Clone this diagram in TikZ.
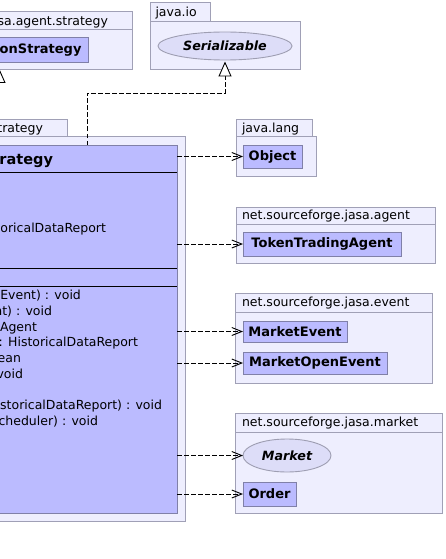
\documentclass[tikz,border=0pt]{standalone}
\usepackage{fontspec}
\setmainfont{DejaVu Sans}
\usetikzlibrary{arrows.meta,shapes.geometric}
\definecolor{pkgfill}{RGB}{238,238,254}
\definecolor{pkgdraw}{RGB}{160,160,182}
\definecolor{clsfill}{RGB}{187,187,255}
\definecolor{clsdraw}{RGB}{128,128,168}
\definecolor{ellfill}{RGB}{221,221,248}
\definecolor{elldraw}{RGB}{158,158,178}
\begin{document}
\begin{tikzpicture}[x=1pt,y=-1pt,
  every node/.style={inner sep=0pt, outer sep=0pt},
  pkg/.style={draw=pkgdraw, fill=pkgfill, line width=0.9pt},
  cls/.style={draw=clsdraw, fill=clsfill, line width=0.9pt, rectangle, font=\fontsize{13}{15}\selectfont\bfseries},
  ell/.style={draw=elldraw, fill=ellfill, line width=0.9pt, ellipse, font=\fontsize{12.7}{15}\selectfont\bfseries\itshape},
  plabel/.style={font=\fontsize{12.5}{15}\selectfont},
  mtext/.style={font=\fontsize{12.5}{15}\selectfont, anchor=base east},
  sepline/.style={draw=black, line width=0.9pt},
  dep/.style={draw=black, line width=0.9pt, dash pattern=on 4.5pt off 2.5pt, -{Straight Barb[length=10pt,width=8pt,line width=0.9pt]}},
  gen/.style={draw=black, line width=0.9pt, -{Triangle[length=15pt,width=13pt,fill=white,line width=0.9pt]}},
  realz/.style={draw=black, line width=0.9pt, dash pattern=on 4.5pt off 2.5pt, -{Triangle[length=15pt,width=13pt,fill=white,line width=0.9pt,sep=0pt]}}
]
\useasboundingbox (0,0) rectangle (445,559);
\fill[white] (0,0) rectangle (445,559);

% package net.sourceforge.jasa.agent.strategy (top left)
\draw[pkg] (-60,11) rectangle (132,29);
\draw[pkg] (-60,29) rectangle (132,69);
\node[plabel, anchor=base east] (lstrat) at (108,25.5) {sa.agent.strategy};
\node[cls, minimum width=148pt, minimum height=25pt] (strat) at (14,49.5) {};
\node[font=\fontsize{13}{15}\selectfont\bfseries, anchor=base east] (stratname) at (81.5,54) {onStrategy};

% package java.io
\draw[pkg] (150,2) rectangle (210,21);
\draw[pkg] (150,21) rectangle (300,69);
\node[plabel, anchor=base west] (lio) at (155.5,17) {java.io};
\node[ell, minimum width=134pt, minimum height=28pt] (ser) at (225,46) {Serializable};

% main package
\draw[pkg] (-60,119) rectangle (67,136);
\draw[pkg] (-60,136) rectangle (185,521);
\node[plabel, anchor=base east] (lmain) at (43,132) {trategy};
\node[cls, minimum width=277pt, minimum height=368pt] (main) at (38.5,329) {};
\draw[sepline] (-100,172) -- (177,172);
\draw[sepline] (-100,268) -- (177,268);
\draw[sepline] (-100,286) -- (177,286);
\node[font=\fontsize{14.5}{18}\selectfont\bfseries, anchor=base east] (mainname) at (53,164) {rategy};
\node[mtext] (a1) at (106,232.5) {oricalDataReport};
\node[mtext, anchor=base west] (m1) at (0.3,299.5) {Event) : void};
\node[mtext] (m2) at (52,315.25) {nt) : void};
\node[mtext] (m3) at (37,331) {Agent};
\node[mtext] (m4) at (138,346.75) {: HistoricalDataReport};
\node[mtext] (m5) at (21,362.5) {ean};
\node[mtext] (m6) at (23,378.25) {void};
\node[mtext] (m7) at (162,409.75) {istoricalDataReport) : void};
\node[mtext] (m8) at (98,425.5) {Scheduler) : void};

% java.lang
\draw[pkg] (236,119) rectangle (312,136);
\draw[pkg] (236,136) rectangle (316,176);
\node[plabel, anchor=base west] (llang) at (242,132) {java.lang};
\node[cls, minimum width=59pt, minimum height=23pt] (obj) at (272.5,156.5) {Object};

% net.sourceforge.jasa.agent
\draw[pkg] (236,207) rectangle (435,224);
\draw[pkg] (236,224) rectangle (435,263);
\node[plabel, anchor=base west] (lagent) at (242,219) {net.sourceforge.jasa.agent};
\node[cls, minimum width=158pt, minimum height=24pt] (tta) at (322,244) {TokenTradingAgent};

% net.sourceforge.jasa.event
\draw[pkg] (235,293) rectangle (432,312);
\draw[pkg] (235,312) rectangle (432,383);
\node[plabel, anchor=base west] (levent) at (242,306) {net.sourceforge.jasa.event};
\node[cls, minimum width=104pt, minimum height=21pt] (mev) at (295,331.5) {MarketEvent};
\node[cls, minimum width=144pt, minimum height=22pt] (moe) at (315,363) {MarketOpenEvent};

% net.sourceforge.jasa.market
\draw[pkg] (235,413) rectangle (442,432);
\draw[pkg] (235,432) rectangle (442,513);
\node[plabel, anchor=base west] (lmarket) at (242,426.5) {net.sourceforge.jasa.market};
\node[ell, minimum width=88pt, minimum height=33pt] (mkt) at (287,455.5) {Market};
\node[cls, minimum width=53pt, minimum height=24pt] (order) at (269.5,494) {Order};

% connectors
\coordinate (gtop) at (-1,68);
\draw[gen] (main.north -| gtop) -- (gtop);
\coordinate (rbend) at (87,93);
\draw[realz] (main.north -| rbend) -- (rbend) -| ([yshift=-1.5pt]ser.south);
\draw[dep] (main.east |- obj.west) -- (obj.west);
\draw[dep] (main.east |- tta.west) -- (tta.west);
\draw[dep] (main.east |- mev.west) -- (mev.west);
\draw[dep] (main.east |- moe.west) -- (moe.west);
\draw[dep] (main.east |- mkt.west) -- (mkt.west);
\draw[dep] (main.east |- order.west) -- (order.west);
\end{tikzpicture}
\end{document}
